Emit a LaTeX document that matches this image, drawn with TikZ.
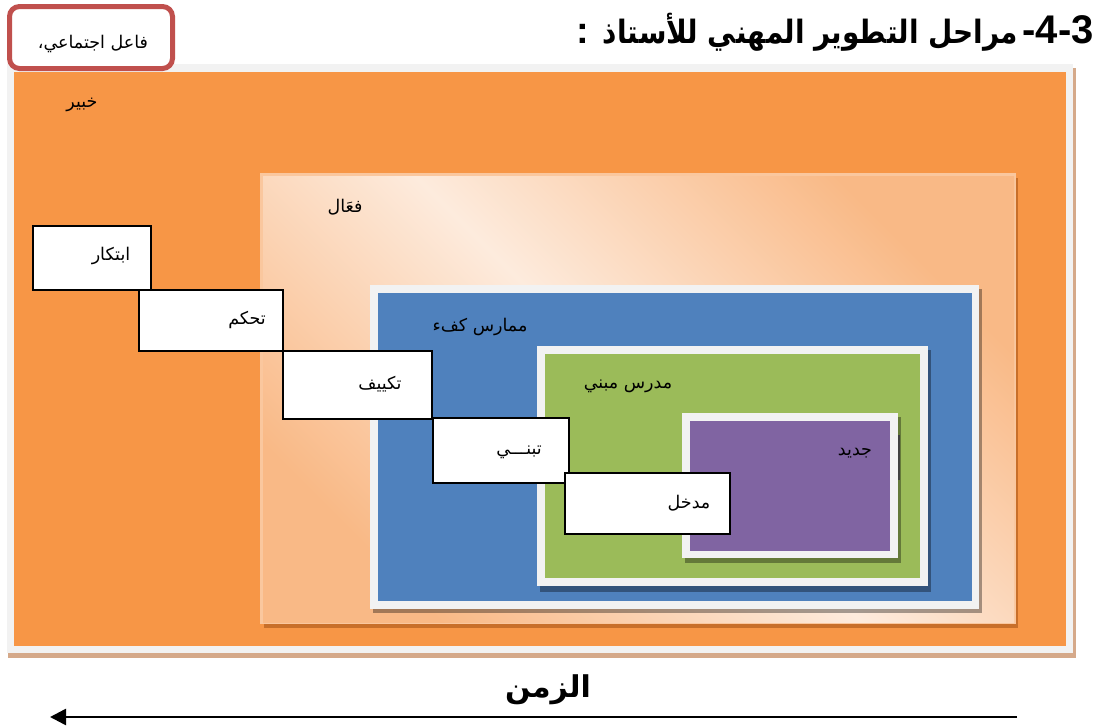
\documentclass[tikz,border=0pt]{standalone}
\usepackage{fontspec}
\setmainfont{Liberation Sans}
\newfontfamily\arfont[Script=Arabic]{DejaVu Sans}
\TeXXeTstate=1
\usetikzlibrary{arrows.meta}
\definecolor{cOrange}{HTML}{F79646}
\definecolor{cFrame}{HTML}{F2F2F2}
\definecolor{cBlue}{HTML}{4F81BD}
\definecolor{cGreen}{HTML}{9BBB59}
\definecolor{cPurple}{HTML}{8064A2}
\definecolor{cRed}{HTML}{C0504D}
\definecolor{cPeachD}{HTML}{F9B986}
\definecolor{cPeachL}{HTML}{FDEBDD}
\definecolor{cPeachEdge}{HTML}{FAC79E}
\definecolor{cOrShadow}{HTML}{C86F2A}
\definecolor{cTan}{HTML}{D5A98A}
\begin{document}
\begin{tikzpicture}[x=1pt,y=-1pt,
  stepbox/.style={draw=black, line width=2pt, fill=white, rectangle, inner sep=0pt, anchor=north west},
  lbl/.style={font=\arfont\fontsize{17.5}{20}\selectfont, inner sep=0pt},
  shadowbox/.style={fill=black, fill opacity=0.35},
  framebox/.style={fill=cFrame},
]
\useasboundingbox (0,0) rectangle (1104,726);
\fill[white] (0,0) rectangle (1104,726);
% outer frame (expert)
\fill[cTan] (8,68) rectangle (1076,658);
\fill[cFrame] (7,64) rectangle (1073,653);
\fill[cOrange] (14,72) rectangle (1066,646);
% effective (peach)
\fill[cOrShadow] (264,178) rectangle (1018,628);
\fill[cPeachEdge] (260,173) rectangle (1016,624);
\shade[top color=cPeachD, bottom color=cPeachD, middle color=cPeachL, shading angle=-45] (263,176) rectangle (1014,622);
% competent practitioner (blue)
\fill[shadowbox] (373,289) rectangle (982,613);
\fill[framebox] (370,285) rectangle (979,609);
\fill[cBlue] (378,293) rectangle (972,601);
% builder teacher (green)
\fill[shadowbox] (540,350) rectangle (931,592);
\fill[framebox] (537,346) rectangle (928,586);
\fill[cGreen] (545,354) rectangle (920,578);
% new (purple)
\fill[shadowbox] (685,417) rectangle (901,563);
\fill[framebox] (682,413) rectangle (898,558);
\fill[cPurple] (690,421) rectangle (890,551);
\draw[line width=1.5pt, black!75] (899,435) -- (899,480);
% level labels
\node[lbl] (l1) at (82,105) {\beginR خبير\endR};
\node[lbl] (l2) at (345,207) {\beginR فعَال\endR};
\node[lbl] (l3) at (480,327) {\beginR ممارس كفء\endR};
\node[lbl] (l4) at (628,386) {\beginR مدرس مبني\endR};
\node[lbl] (l5) at (855,453) {\beginR جديد\endR};
% steps
\node[stepbox, minimum width=118pt, minimum height=64pt] (s1) at (32,225) {};
\node[stepbox, minimum width=144pt, minimum height=61pt] (s2) at (138,289) {};
\node[stepbox, minimum width=149pt, minimum height=68pt] (s3) at (282,350) {};
\node[stepbox, minimum width=136pt, minimum height=65pt] (s4) at (432,417) {};
\node[stepbox, minimum width=165pt, minimum height=61pt] (s5) at (564,472) {};
\node[lbl] (t1) at (111,256) {\beginR ابتكار\endR};
\node[lbl] (t2) at (247,320) {\beginR تحكم\endR};
\node[lbl] (t3) at (380,384) {\beginR تكييف\endR};
\node[lbl] (t4) at (519,452) {\beginR تبنـــي\endR};
\node[lbl] (t5) at (689,503) {\beginR مدخل\endR};
% social actor box
\node[draw=cRed, line width=5pt, rounded corners=10pt, fill=white, inner sep=0pt,
      minimum width=163pt, minimum height=62pt] (actor) at (91,37.5) {};
\node[lbl] (actort) at (93,44) {\beginR فاعل اجتماعي،\endR};
% title
\node[font=\bfseries\fontsize{40}{42}\selectfont, inner sep=0pt, anchor=base east] (tnum) at (1094,43) {-4-3};
\node[inner sep=0pt, anchor=base east] (tar) at (1018,43) {\resizebox{415pt}{!}{\scalebox{1}[1.15]{\arfont\bfseries\beginR مراحل التطوير المهني للأستاذ\endR}}};
\node[font=\bfseries\fontsize{38}{40}\selectfont, inner sep=0pt, anchor=base west] (tcol) at (576,43) {:};
% time arrow
\node[font=\arfont\bfseries\fontsize{30}{34}\selectfont, inner sep=0pt] (time) at (548,690) {\beginR الزمن\endR};
\coordinate (tstart) at (1017,717);
\coordinate (tend) at (50,717);
\draw[line width=2.5pt, -{Triangle[length=16pt, width=16pt]}] (tstart) -- (tend);
\end{tikzpicture}
\end{document}
